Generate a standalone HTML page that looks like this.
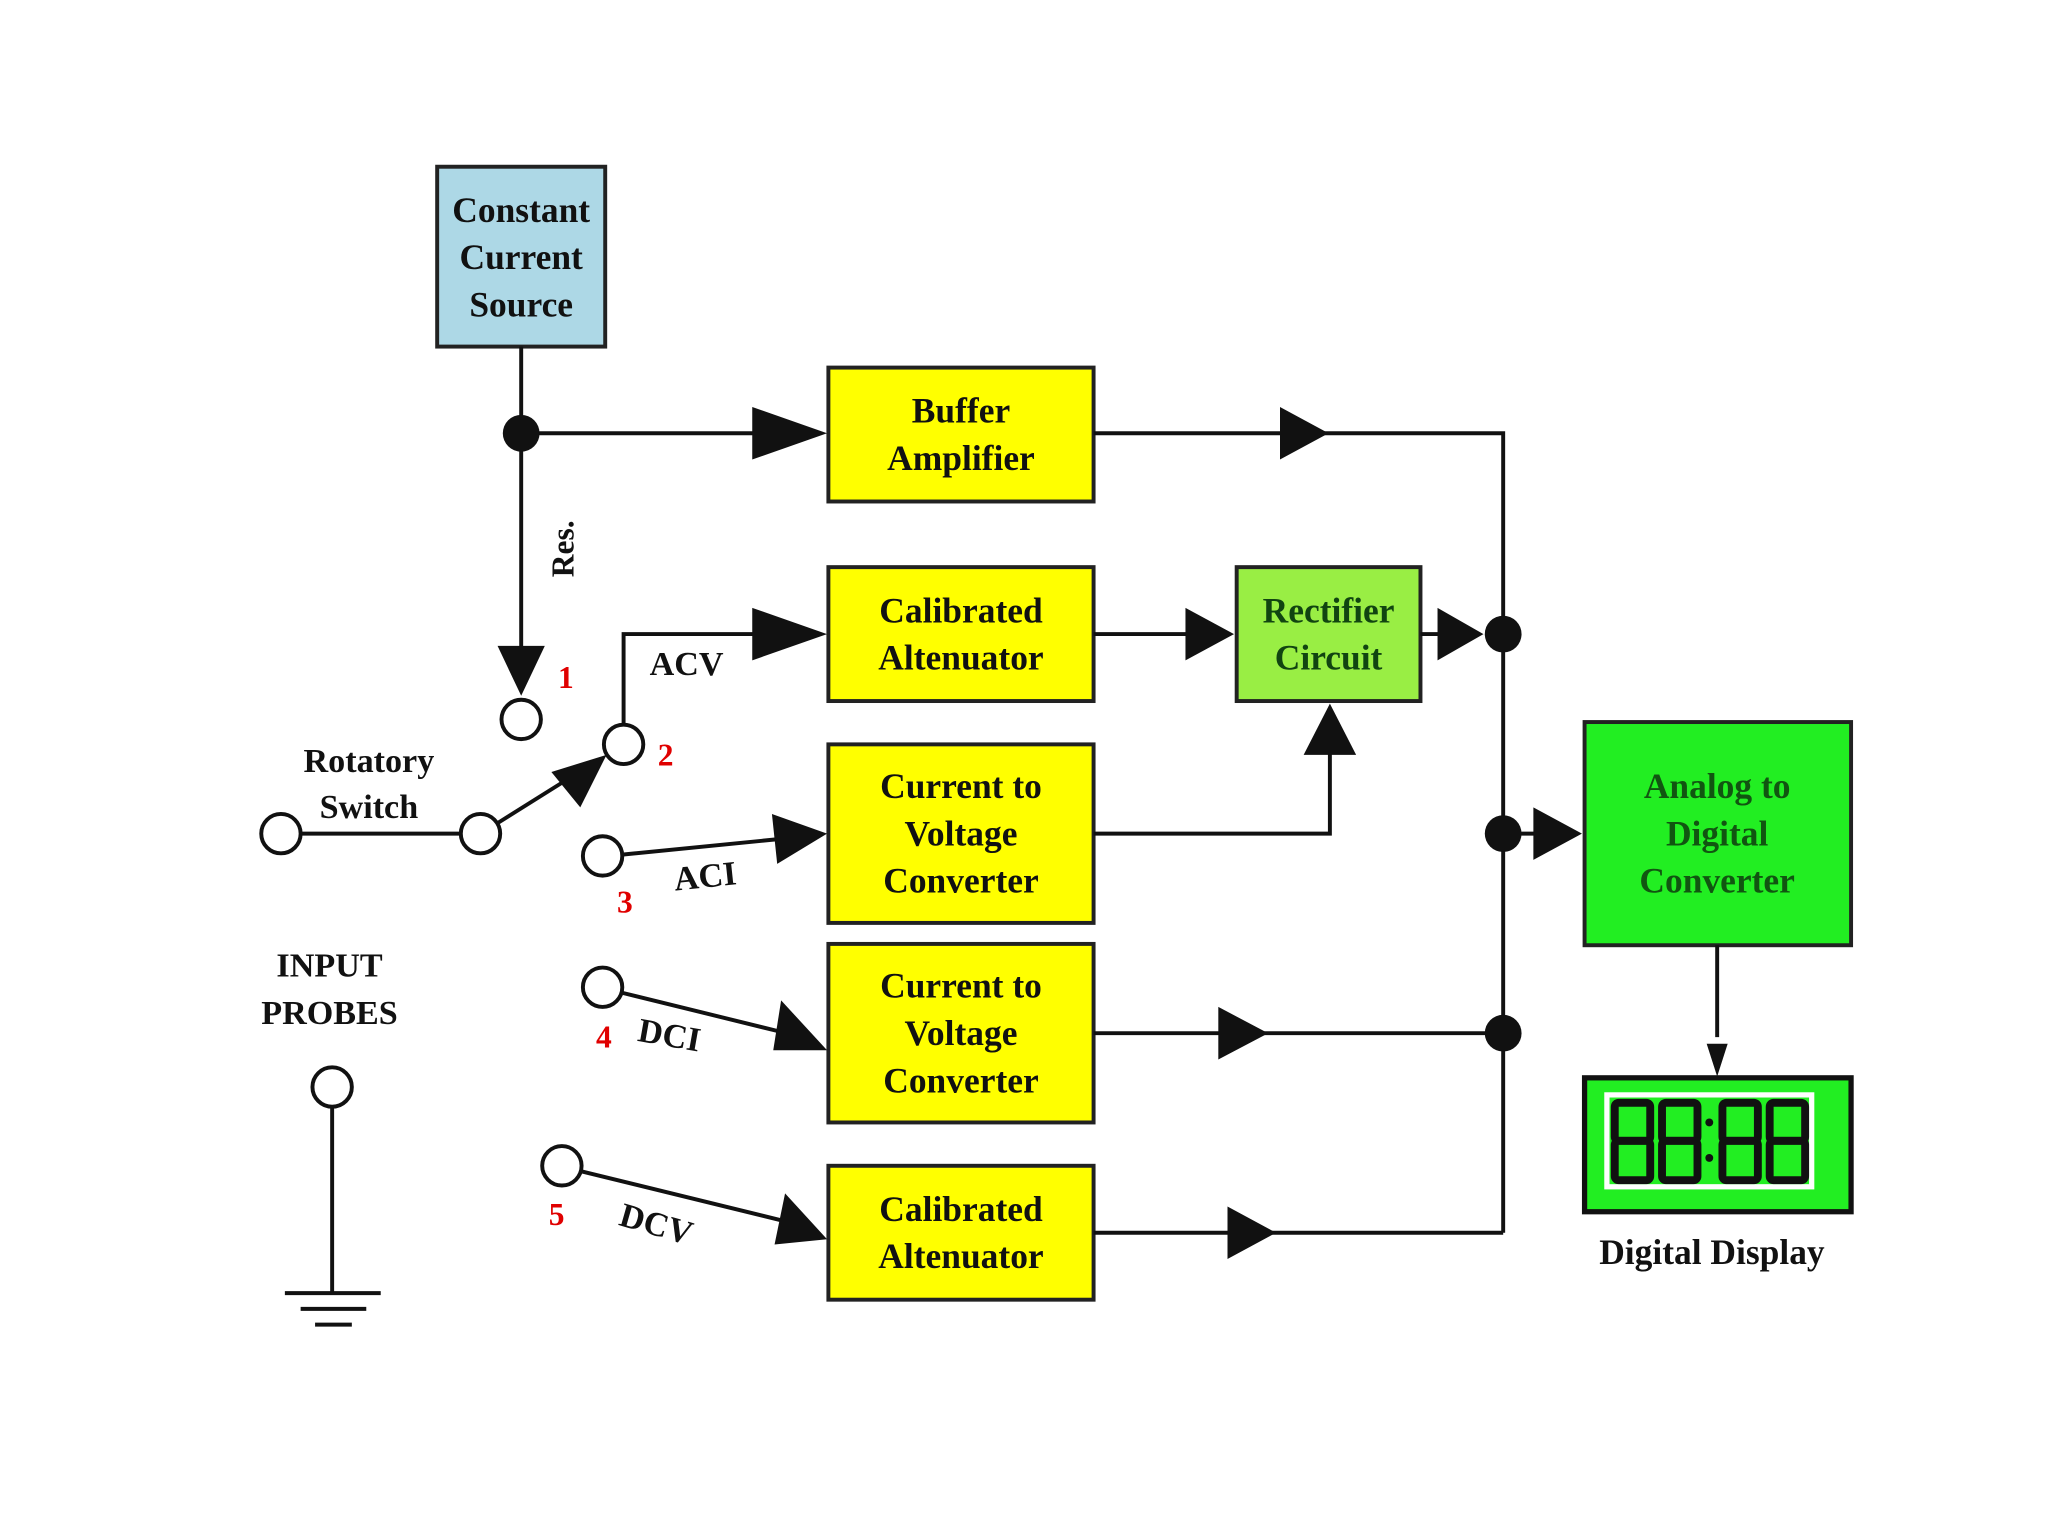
<!DOCTYPE html>
<html><head><meta charset="utf-8"><style>html,body{margin:0;padding:0;background:#fff}svg{display:block}</style></head>
<body>
<svg width="2048" height="1536" viewBox="0 0 1560 1170" preserveAspectRatio="none" xmlns="http://www.w3.org/2000/svg">
<rect width="1560" height="1170" fill="#fff"/>
<g font-family="'Liberation Serif',serif" font-weight="bold" font-size="27" text-anchor="middle" fill="#111">
<!-- boxes -->
<rect x="333" y="127" width="128" height="137" fill="#add8e6" stroke="#222" stroke-width="3"/>
<text x="397" y="169">Constant</text><text x="397" y="205">Current</text><text x="397" y="241">Source</text>
<g fill="#ffff00" stroke="#222" stroke-width="3">
<rect x="631" y="280" width="202" height="102"/>
<rect x="631" y="432" width="202" height="102"/>
<rect x="631" y="567" width="202" height="136"/>
<rect x="631" y="719" width="202" height="136"/>
<rect x="631" y="888" width="202" height="102"/>
</g>
<rect x="942" y="432" width="140" height="102" fill="#99ee44" stroke="#222" stroke-width="3"/>
<rect x="1207" y="550" width="203" height="170" fill="#22ee22" stroke="#222" stroke-width="3"/>
<rect x="1207" y="821" width="203" height="102" fill="#22ee22" stroke="#111" stroke-width="4"/>
<rect x="1224" y="834" width="156" height="70" fill="#22ee22" stroke="#fff" stroke-width="4"/>
<g fill="none" stroke="#111" stroke-width="6">
<rect x="1230" y="840" width="27" height="29" rx="3"/><rect x="1230" y="869" width="27" height="30" rx="3"/>
<rect x="1266" y="840" width="27" height="29" rx="3"/><rect x="1266" y="869" width="27" height="30" rx="3"/>
<rect x="1312" y="840" width="27" height="29" rx="3"/><rect x="1312" y="869" width="27" height="30" rx="3"/>
<rect x="1348" y="840" width="27" height="29" rx="3"/><rect x="1348" y="869" width="27" height="30" rx="3"/>
</g>
<circle cx="1302" cy="855" r="3" fill="#111"/><circle cx="1302" cy="882" r="3" fill="#111"/>
<text x="732" y="322">Buffer</text><text x="732" y="358">Amplifier</text>
<text x="732" y="474">Calibrated</text><text x="732" y="510">Altenuator</text>
<text x="1012" y="474" fill="#114411">Rectifier</text><text x="1012" y="510" fill="#114411">Circuit</text>
<text x="732" y="608">Current to</text><text x="732" y="644">Voltage</text><text x="732" y="680">Converter</text>
<text x="732" y="760">Current to</text><text x="732" y="796">Voltage</text><text x="732" y="832">Converter</text>
<text x="732" y="930">Calibrated</text><text x="732" y="966">Altenuator</text>
<text x="1308" y="608" fill="#115511">Analog to</text><text x="1308" y="644" fill="#115511">Digital</text><text x="1308" y="680" fill="#115511">Converter</text>
<text x="1304" y="963">Digital Display</text>
<text x="281" y="588" font-size="26">Rotatory</text><text x="281" y="623" font-size="26">Switch</text>
<text x="251" y="744" font-size="26">INPUT</text><text x="251" y="780" font-size="26">PROBES</text>
<text x="523" y="514" font-size="26">ACV</text>
<text x="537" y="676" font-size="26" transform="rotate(-6 537 667)">ACI</text>
<text x="510" y="797" font-size="26" transform="rotate(10 510 788)">DCI</text>
<text x="500" y="941" font-size="26" transform="rotate(16 500 932)">DCV</text>
<text x="428" y="418" font-size="24" transform="rotate(-90 428 418)" dy="9">Res.</text>
<g fill="#e00000" font-size="24">
<text x="431" y="524">1</text><text x="507" y="583">2</text><text x="476" y="695">3</text><text x="460" y="798">4</text><text x="424" y="933">5</text>
</g>
</g>
<!-- wires -->
<g stroke="#111" stroke-width="3" fill="none">
<path d="M397 264V495"/><path d="M397 330H580"/>
<path d="M833 330H1145V939"/><path d="M833 483H910"/><path d="M1082 483H1100"/>
<path d="M833 635H1013V570"/><path d="M1145 635H1172"/>
<path d="M833 787H1145"/><path d="M833 939H1145"/>
<path d="M1308 720V790"/>
<path d="M229 635H351"/><path d="M379 627L430 595"/>
<path d="M475 552V483H580"/>
<path d="M474 651L595 639"/><path d="M473 756L595 786"/><path d="M442 892L597 930"/>
<path d="M253 843V985"/><path d="M217 985H290"/><path d="M229 997H279"/><path d="M240 1009H268"/>
</g>
<g fill="#111">
<circle cx="397" cy="330" r="14"/><circle cx="1145" cy="483" r="14"/><circle cx="1145" cy="635" r="14"/><circle cx="1145" cy="787" r="14"/>
<polygon points="379,492 415,492 397,530"/>
<polygon points="573,310 573,350 630,330"/>
<polygon points="975,310 975,350 1012,330"/>
<polygon points="903,463 903,503 940,483"/>
<polygon points="1095,463 1095,503 1130,483"/>
<polygon points="993,575 1033,575 1013,536"/>
<polygon points="1168,615 1168,655 1205,635"/>
<polygon points="1300,795 1316,795 1308,820"/>
<polygon points="573,463 573,503 630,483"/>
<polygon points="928,767 928,807 966,787"/>
<polygon points="935,919 935,959 972,939"/>
<polygon points="420,588 442,615 462,575"/>
<polygon points="588,620 592,658 630,635"/>
<polygon points="595,762 589,800 630,800"/>
<polygon points="598,909 590,948 630,944"/>
</g>
<g fill="#fff" stroke="#111" stroke-width="3">
<circle cx="397" cy="548" r="15"/><circle cx="475" cy="567" r="15"/><circle cx="459" cy="652" r="15"/>
<circle cx="459" cy="752" r="15"/><circle cx="428" cy="888" r="15"/>
<circle cx="214" cy="635" r="15"/><circle cx="366" cy="635" r="15"/><circle cx="253" cy="828" r="15"/>
</g>
</svg>
</body></html>
